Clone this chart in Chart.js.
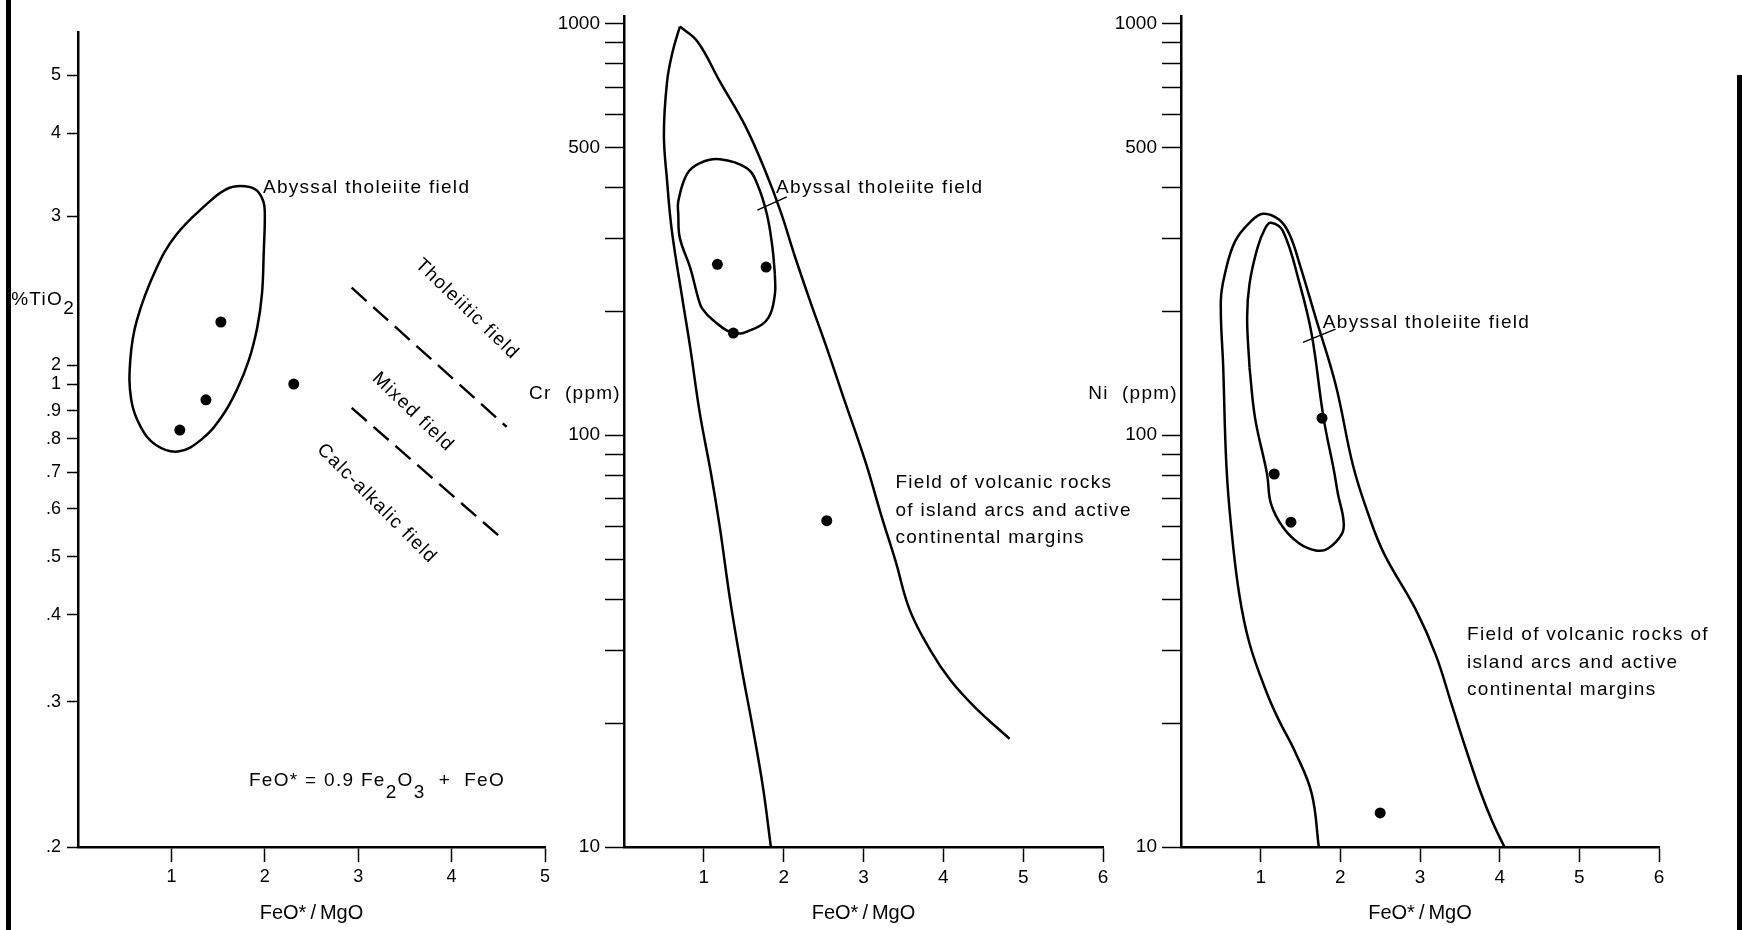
<!DOCTYPE html>
<html>
<head>
<meta charset="utf-8">
<title>FeO*/MgO diagrams: TiO2, Cr, Ni</title>
<script src="https://cdn.jsdelivr.net/npm/chart.js@4.4.1/dist/chart.umd.min.js"></script>
<style>
  html, body { margin: 0; padding: 0; background: #fff; }
  #page { position: relative; width: 1742px; height: 930px; overflow: hidden; background: #fff; }
  #page canvas { position: absolute; left: 0; top: 0; }
  .edge { position: absolute; width: 5px; background: #000; }
</style>
</head>
<body>
<div id="page">
  <div class="edge" style="left:6px; top:0; height:930px"></div>
  <div class="edge" style="left:1737px; top:75px; height:855px"></div>
  <canvas id="tiChart" width="1742" height="930"></canvas>
  <canvas id="crChart" width="1742" height="930"></canvas>
  <canvas id="niChart" width="1742" height="930"></canvas>
</div>
<script>
// === PANEL 1: %TiO2 vs FeO*/MgO ===
const tiXTicks = [1, 2, 3, 4, 5];
const tiTickValues = [0.2, 0.3, 0.4, 0.5, 0.6, 0.7, 0.8, 0.9, 1, 2, 3, 4, 5];
const tiTickLabels = ['.2', '.3', '.4', '.5', '.6', '.7', '.8', '.9', '1', '2', '3', '4', '5'];
// the TiO2 axis is hand drawn (log-like, broken between 1 and 2): axis units 0..100
const tiTickUnits = [0, 17.8, 28.5, 35.6, 41.5, 46.0, 50.1, 53.5, 56.8, 59.1, 77.4, 87.6, 94.7];

const tiSampleX = [1.53, 2.31, 1.37, 1.09];
const tiSampleY = [2.25, 1.0, 0.94, 0.83];

const tiFieldX = [1.99, 1.97, 1.92, 1.83, 1.70, 1.54, 1.32, 1.07, 0.83, 0.67, 0.57, 0.56, 0.63, 0.83, 1.05, 1.38, 1.58, 1.74, 1.90, 1.98, 2.00, 1.99];
const tiFieldY = [2.74, 2.43, 2.22, 2.03, 0.977, 0.879, 0.797, 0.760, 0.781, 0.842, 0.94, 2.03, 2.26, 2.59, 2.85, 3.13, 3.29, 3.33, 3.29, 3.17, 3.03, 2.74];

const tiUpperLineX = [2.93, 4.59];
const tiUpperLineY = [2.47, 0.841];
const tiLowerLineX = [2.93, 4.57];
const tiLowerLineY = [0.911, 0.531];

// === PANEL 2: Cr (ppm) ===
const ppmXTicks = [1, 2, 3, 4, 5, 6];
const ppmTicks = [10, 20, 30, 40, 50, 60, 70, 80, 90, 100, 200, 300, 400, 500, 600, 700, 800, 900, 1000];
const ppmLabels = [10, 100, 500, 1000];

const crSampleX = [1.17, 1.78, 1.37, 2.54];
const crSampleY = [260, 256, 177, 62];

const crArcLeftX = [1.84, 1.74, 1.61, 1.47, 1.33, 1.20, 1.09, 0.95, 0.83, 0.73, 0.60, 0.54, 0.50, 0.54, 0.61, 0.70];
const crArcLeftY = [10, 14.0, 19.6, 27.4, 39.7, 59.8, 80.7, 113, 163, 215, 313, 414, 538, 723, 855, 983];
const crArcRightX = [0.70, 0.92, 1.20, 1.52, 1.77, 1.96, 2.14, 2.33, 2.53, 2.74, 3.02, 3.23, 3.40, 3.58, 3.84, 4.09, 4.40, 4.83];
const crArcRightY = [983, 904, 723, 563, 438, 350, 272, 212, 165, 125, 86.7, 63.2, 49.6, 37.6, 30.0, 25.4, 21.8, 18.3];

const crAbyssalX = [1.89, 1.89, 1.81, 1.62, 1.37, 1.12, 0.98, 0.93, 0.83, 0.70, 0.68, 0.68, 0.79, 0.95, 1.20, 1.54, 1.67, 1.79, 1.86, 1.89];
const crAbyssalY = [246, 220, 193, 181, 177, 190, 203, 215, 255, 301, 344, 370, 431, 458, 468, 445, 407, 344, 285, 246];

const crLeaderX = [1.67, 2.04];
const crLeaderY = [352, 379];

// === PANEL 3: Ni (ppm) ===
const niSampleX = [1.77, 1.17, 1.38, 2.50];
const niSampleY = [110, 80.5, 61.5, 12.1];

const niArcX = [1.73, 1.64, 1.44, 1.23, 1.08, 0.86, 0.73, 0.63, 0.57, 0.53, 0.50, 0.55, 0.68, 0.88, 1.03, 1.23, 1.36, 1.49, 1.69, 1.94, 2.16, 2.35, 2.55, 2.95, 3.20, 3.40, 3.58, 3.76, 3.91, 4.06];
const niArcY = [10, 13.5, 16.9, 20.3, 23.6, 31.2, 41.2, 59.8, 84.3, 146, 212, 246, 296, 331, 345, 334, 308, 260, 193, 133, 84.3, 64.4, 51.5, 37.6, 29.2, 22.1, 17.2, 13.6, 11.5, 10];

const niAbyssalX = [0.86, 0.83, 0.86, 0.96, 1.06, 1.13, 1.28, 1.49, 1.64, 1.79, 1.92, 1.97, 2.04, 2.02, 1.84, 1.69, 1.49, 1.28, 1.13, 1.08, 0.93, 0.86];
const niAbyssalY = [146, 193, 233, 285, 319, 328, 313, 233, 176, 110, 82, 72, 62.1, 57.6, 53, 52.5, 54.5, 59.8, 68.1, 80.5, 110, 146];

const niLeaderX = [1.53, 1.94];
const niLeaderY = [168, 181];

// === COMMON STYLE ===
const PAGE_W = 1742;
const X_AXIS_H = 83;
const NOTE_FONT = '19px "Liberation Sans", Arial, Helvetica, sans-serif';
const ink = '#000';

Chart.defaults.font.family = '"Liberation Sans", Arial, Helvetica, sans-serif';
Chart.defaults.color = ink;

// TiO2 value -> axis units, log interpolation between the drawn ticks
function tiToAxis(v) {
  let i = 0;
  while (i < tiTickValues.length - 2 && v > tiTickValues[i + 1]) i++;
  const v0 = tiTickValues[i], v1 = tiTickValues[i + 1];
  const u0 = tiTickUnits[i], u1 = tiTickUnits[i + 1];
  return u0 + (u1 - u0) * Math.log(v / v0) / Math.log(v1 / v0);
}

const pts = (xs, ys, fy = v => v) => xs.map((x, i) => ({ x, y: fy(ys[i]) }));

const curve = (data, extra) => Object.assign({
  data, showLine: true, fill: false, borderColor: ink, borderWidth: 2.5,
  pointRadius: 0, tension: 0.4
}, extra);
const dots = data => ({ data, showLine: false, pointRadius: 5.5, pointBackgroundColor: ink, pointBorderWidth: 0 });

const tickGrid = len => ({ drawOnChartArea: false, drawTicks: true, tickLength: len, tickWidth: 1.5, tickColor: ink });
const axisLine = { display: true, color: ink, width: 2.5 };

function feoAxis(maxVal, tickVals, fontSize) {
  return {
    type: 'linear', min: 0, max: maxVal,
    afterBuildTicks: s => { s.ticks = tickVals.map(v => ({ value: v })); },
    afterFit: s => { s.height = X_AXIS_H; },
    grid: tickGrid(15),
    border: axisLine,
    ticks: { color: ink, font: { size: fontSize }, padding: 4, autoSkip: false, maxRotation: 0 },
    title: { display: true, text: 'FeO*\u2009/\u2009MgO', color: ink, font: { size: 20 }, padding: { top: 0, bottom: 5 } }
  };
}

function ppmAxis(width) {
  return {
    type: 'logarithmic', min: 10, max: 1040,
    afterBuildTicks: s => { s.ticks = ppmTicks.map(v => ({ value: v })); },
    afterFit: s => { s.width = width; },
    grid: tickGrid(19),
    border: axisLine,
    ticks: { color: ink, font: { size: 19 }, padding: 5, autoSkip: false, callback: v => ppmLabels.includes(v) ? String(v) : '' }
  };
}

// draws a row of text pieces, {sub: '2'} pieces are dropped as subscripts
function drawParts(ctx, parts, x, y, align, drop) {
  const txt = p => (typeof p === 'string' ? p : p.sub);
  const width = parts.reduce((w, p) => w + ctx.measureText(txt(p)).width, 0);
  let cx = align === 'right' ? x - width : x;
  ctx.textAlign = 'left';
  parts.forEach(p => {
    ctx.fillText(txt(p), cx, typeof p === 'string' ? y : y + drop);
    cx += ctx.measureText(txt(p)).width;
  });
}

// field names, formula and the horizontal y titles
const fieldNotes = {
  id: 'fieldNotes',
  afterDatasetsDraw(chart, args, opts) {
    const { ctx, chartArea } = chart;
    const xs = chart.scales.x, ys = chart.scales.y;
    ctx.save();
    ctx.fillStyle = ink;
    ctx.font = NOTE_FONT;
    ctx.letterSpacing = '1.3px';
    ctx.textBaseline = 'middle';
    (opts.items || []).forEach(n => {
      const px = n.axisTitle ? chartArea.left - 3 : xs.getPixelForValue(n.x);
      const py = ys.getPixelForValue(n.y);
      if (n.angle) {
        ctx.save();
        ctx.translate(px, py);
        ctx.rotate(n.angle * Math.PI / 180);
        ctx.textAlign = 'center';
        ctx.fillText(n.text, 0, 0);
        ctx.restore();
        return;
      }
      const rows = n.lines || [n.parts || n.text];
      rows.forEach((row, i) => drawParts(ctx, [].concat(row), px, py + i * 27.5, n.axisTitle ? 'right' : 'left', n.drop || 9));
    });
    ctx.restore();
  }
};

function makeChart(id, box, scales, datasets, notes) {
  return new Chart(document.getElementById(id), {
    type: 'scatter',
    data: { datasets },
    options: {
      responsive: false, animation: false, events: [], devicePixelRatio: 1,
      layout: { autoPadding: false, padding: { left: box.left - box.axisW, right: PAGE_W - box.right, top: box.top, bottom: 0 } },
      plugins: { legend: { display: false }, tooltip: { enabled: false }, fieldNotes: { items: notes } },
      scales
    },
    plugins: [fieldNotes]
  });
}

// === BUILD ===
makeChart('tiChart', { left: 78, right: 545, top: 32, axisW: 70 }, {
  x: feoAxis(5, tiXTicks, 18),
  y: {
    type: 'linear', min: 0, max: 100,
    afterBuildTicks: s => { s.ticks = tiTickUnits.map(v => ({ value: v })); },
    afterFit: s => { s.width = 70; },
    grid: tickGrid(11),
    border: axisLine,
    ticks: { color: ink, font: { size: 18 }, padding: 6, autoSkip: false, callback: (v, i) => tiTickLabels[i] }
  }
}, [
  curve(pts(tiFieldX, tiFieldY, tiToAxis)),
  curve(pts(tiUpperLineX, tiUpperLineY, tiToAxis), { tension: 0, borderWidth: 2.4, borderDash: [20, 9] }),
  curve(pts(tiLowerLineX, tiLowerLineY, tiToAxis), { tension: 0, borderWidth: 2.4, borderDash: [20, 9] }),
  dots(pts(tiSampleX, tiSampleY, tiToAxis))
], [
  { axisTitle: true, y: tiToAxis(2.39), parts: ['%TiO', { sub: '2' }], drop: 8.5 },
  { text: 'Abyssal tholeiite field', x: 1.98, y: tiToAxis(3.31) },
  { text: 'Tholeiitic field', x: 4.165, y: tiToAxis(2.33), angle: 44 },
  { text: 'Mixed field', x: 3.587, y: tiToAxis(0.896), angle: 44 },
  { text: 'Calc-alkalic field', x: 3.20, y: tiToAxis(0.613), angle: 45 },
  { parts: ['FeO* = 0.9 Fe', { sub: '2' }, 'O', { sub: '3' }, '  +  FeO'], x: 1.83, y: tiToAxis(0.241), drop: 12 }
]);

makeChart('crChart', { left: 624, right: 1103, top: 15, axisW: 100 }, {
  x: feoAxis(6, ppmXTicks, 19),
  y: ppmAxis(100)
}, [
  curve(pts(crArcLeftX, crArcLeftY)),
  curve(pts(crArcRightX, crArcRightY)),
  curve(pts(crAbyssalX, crAbyssalY)),
  curve(pts(crLeaderX, crLeaderY), { tension: 0, borderWidth: 1.5 }),
  dots(pts(crSampleX, crSampleY))
], [
  { axisTitle: true, y: 126, text: 'Cr  (ppm)' },
  { text: 'Abyssal tholeiite field', x: 1.905, y: 398 },
  { lines: ['Field of volcanic rocks', 'of island arcs and active', 'continental margins'], x: 3.40, y: 76.5 }
]);

makeChart('niChart', { left: 1181, right: 1659, top: 15, axisW: 100 }, {
  x: feoAxis(6, ppmXTicks, 19),
  y: ppmAxis(100)
}, [
  curve(pts(niArcX, niArcY)),
  curve(pts(niAbyssalX, niAbyssalY)),
  curve(pts(niLeaderX, niLeaderY), { tension: 0, borderWidth: 1.5 }),
  dots(pts(niSampleX, niSampleY))
], [
  { axisTitle: true, y: 126, text: 'Ni  (ppm)' },
  { text: 'Abyssal tholeiite field', x: 1.78, y: 187.5 },
  { lines: ['Field of volcanic rocks of', 'island arcs and active', 'continental margins'], x: 3.59, y: 32.7 }
]);
</script>
</body>
</html>
